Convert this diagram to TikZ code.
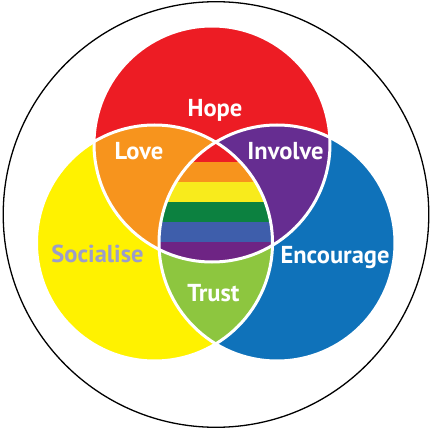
\documentclass[tikz,border=0pt]{standalone}
\usepackage{fontspec}
\setmainfont{PT Sans}
\definecolor{cRed}{HTML}{ED1C24}
\definecolor{cOrange}{HTML}{F7941D}
\definecolor{cYellow}{HTML}{FFF200}
\definecolor{cYellowS}{HTML}{F8EB1C}
\definecolor{cPurple}{HTML}{662D91}
\definecolor{cPurpleS}{HTML}{6E2484}
\definecolor{cBlue}{HTML}{0F72BA}
\definecolor{cBlueS}{HTML}{3E5EAB}
\definecolor{cGreen}{HTML}{8DC63F}
\definecolor{cGreenS}{HTML}{0C8140}
\definecolor{cLav}{HTML}{9C9DC9}
\tikzset{
  lbl/.style={font=\fontsize{24.5}{25}\selectfont\bfseries, text=white, anchor=base, inner sep=0pt},
  edge/.style={draw=white, line width=3pt}
}
\def\Rr{118}
\begin{document}
\begin{tikzpicture}[x=1pt,y=-1pt]
\useasboundingbox (0,0) rectangle (432,428);
\draw[black, line width=1.3pt] (216,214.5) circle[radius=212.8];
% base circles
\fill[cRed] (212,144) circle[radius=\Rr];
\fill[cYellow] (154.5,243) circle[radius=\Rr];
\fill[cBlue] (277,243) circle[radius=\Rr];
% pairwise
\begin{scope}
  \clip (212,144) circle[radius=\Rr];
  \fill[cOrange] (154.5,243) circle[radius=\Rr];
  \fill[cPurple] (277,243) circle[radius=\Rr];
\end{scope}
\begin{scope}
  \clip (154.5,243) circle[radius=\Rr];
  \fill[cGreen] (277,243) circle[radius=\Rr];
\end{scope}
% centre rainbow
\begin{scope}
  \clip (212,144) circle[radius=\Rr];
  \clip (154.5,243) circle[radius=\Rr];
  \clip (277,243) circle[radius=\Rr];
  \fill[cRed] (100,120) rectangle (330,162);
  \fill[cOrange] (100,162) rectangle (330,182);
  \fill[cYellowS] (100,182) rectangle (330,202);
  \fill[cGreenS] (100,202) rectangle (330,222);
  \fill[cBlueS] (100,222) rectangle (330,242);
  \fill[cPurpleS] (100,242) rectangle (330,280);
\end{scope}
% white borders
\draw[edge] (212,144) circle[radius=\Rr];
\draw[edge] (154.5,243) circle[radius=\Rr];
\draw[edge] (277,243) circle[radius=\Rr];
% labels
\node[lbl] (hope) at (215,116.5) {Hope};
\node[lbl] (love) at (139,160) {Love};
\node[lbl] (involve) at (285.5,160) {Involve};
\node[lbl, text=cLav] (socialise) at (97.5,262.5) {Socialise};
\node[lbl] (encourage) at (335,264) {Encourage};
\node[lbl] (trust) at (213.5,301.5) {Trust};
\end{tikzpicture}
\end{document}
